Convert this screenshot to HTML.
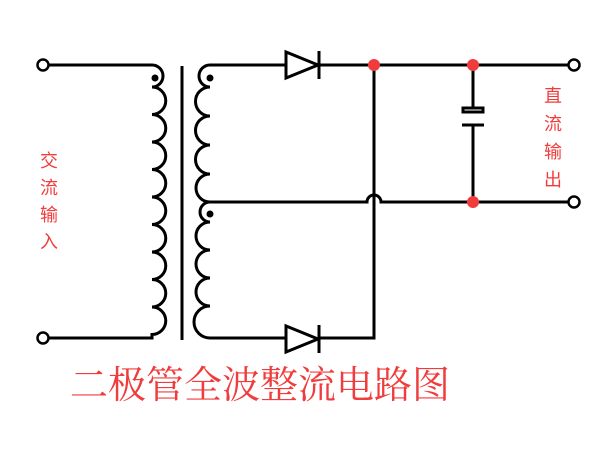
<!DOCTYPE html>
<html><head><meta charset="utf-8"><style>
html,body{margin:0;padding:0;background:#fff;width:600px;height:450px;overflow:hidden}
</style></head><body>
<svg width="600" height="450" viewBox="0 0 600 450" xmlns="http://www.w3.org/2000/svg">
<g fill="none" stroke="#000" stroke-width="3">
<path d="M49,65 H152 a11,11 0 0 1 0,22 a13.75,13.75 0 0 1 0,27.5 a13.75,13.75 0 0 1 0,27.5 a13.75,13.75 0 0 1 0,27.5 a13.75,13.75 0 0 1 0,27.5 a13.75,13.75 0 0 1 0,27.5 a13.75,13.75 0 0 1 0,27.5 a13.75,13.75 0 0 1 0,27.5 a13.75,13.75 0 0 1 0,27.5 a13.75,13.75 0 0 1 0,27.5 V338 H49"/>
<line x1="182" y1="66" x2="182" y2="340"/>
<path d="M285,65 H210 a11,11 0 0 0 0,22 a14.5,14.5 0 0 0 0,29 a14.5,14.5 0 0 0 0,29 a14.5,14.5 0 0 0 0,29 a14,14 0 0 0 0,28"/>
<path d="M210,202 H367 a7,7 0 0 1 14,0 H568"/>
<path d="M210,202 a10,10 0 0 0 0,20 a14,14 0 0 0 0,28 a14,14 0 0 0 0,28 a14,14 0 0 0 0,28 a15,15 0 0 0 0,32 H286"/>
<path d="M319,65 H568"/>
<path d="M319,338 H374 V65"/>
<path d="M473,65 V110 M473,125 V202"/>
<rect x="463" y="108" width="20" height="4" fill="#fff"/>
<line x1="462" y1="125" x2="484" y2="125"/>
<path d="M286,52 V78 L318,65 Z" fill="#fff"/>
<line x1="319" y1="51" x2="319" y2="79"/>
<path d="M286,326 V352 L318,339 Z" fill="#fff"/>
<line x1="319" y1="325" x2="319" y2="353"/>
<circle cx="43" cy="65" r="5.5" fill="#fff" stroke-width="2.5"/>
<circle cx="43" cy="338" r="5.5" fill="#fff" stroke-width="2.5"/>
<circle cx="574" cy="65" r="5.5" fill="#fff" stroke-width="2.5"/>
<circle cx="574" cy="202" r="5.5" fill="#fff" stroke-width="2.5"/>
</g>
<g fill="#000">
<circle cx="155" cy="78" r="3.5"/>
<circle cx="210" cy="78" r="3.5"/>
<circle cx="210" cy="214" r="3.5"/>
</g>
<g fill="#f03c3c">
<circle cx="374" cy="65" r="6"/>
<circle cx="473" cy="65" r="6"/>
<circle cx="473" cy="202" r="6"/>
</g>
<g fill="#f03c3c" font-family="Liberation Sans, Noto Sans CJK SC, sans-serif" font-size="18" text-anchor="middle">
<text x="49" y="167">交</text>
<text x="49" y="194">流</text>
<text x="49" y="221">输</text>
<text x="49" y="248">入</text>
<text x="553" y="102">直</text>
<text x="553" y="130">流</text>
<text x="553" y="158">输</text>
<text x="553" y="186">出</text>
</g>
<text x="70" y="398" fill="#f03c3c" font-family="Liberation Serif, Noto Serif CJK SC, serif" font-size="38" textLength="380">二极管全波整流电路图</text>
</svg>
</body></html>
